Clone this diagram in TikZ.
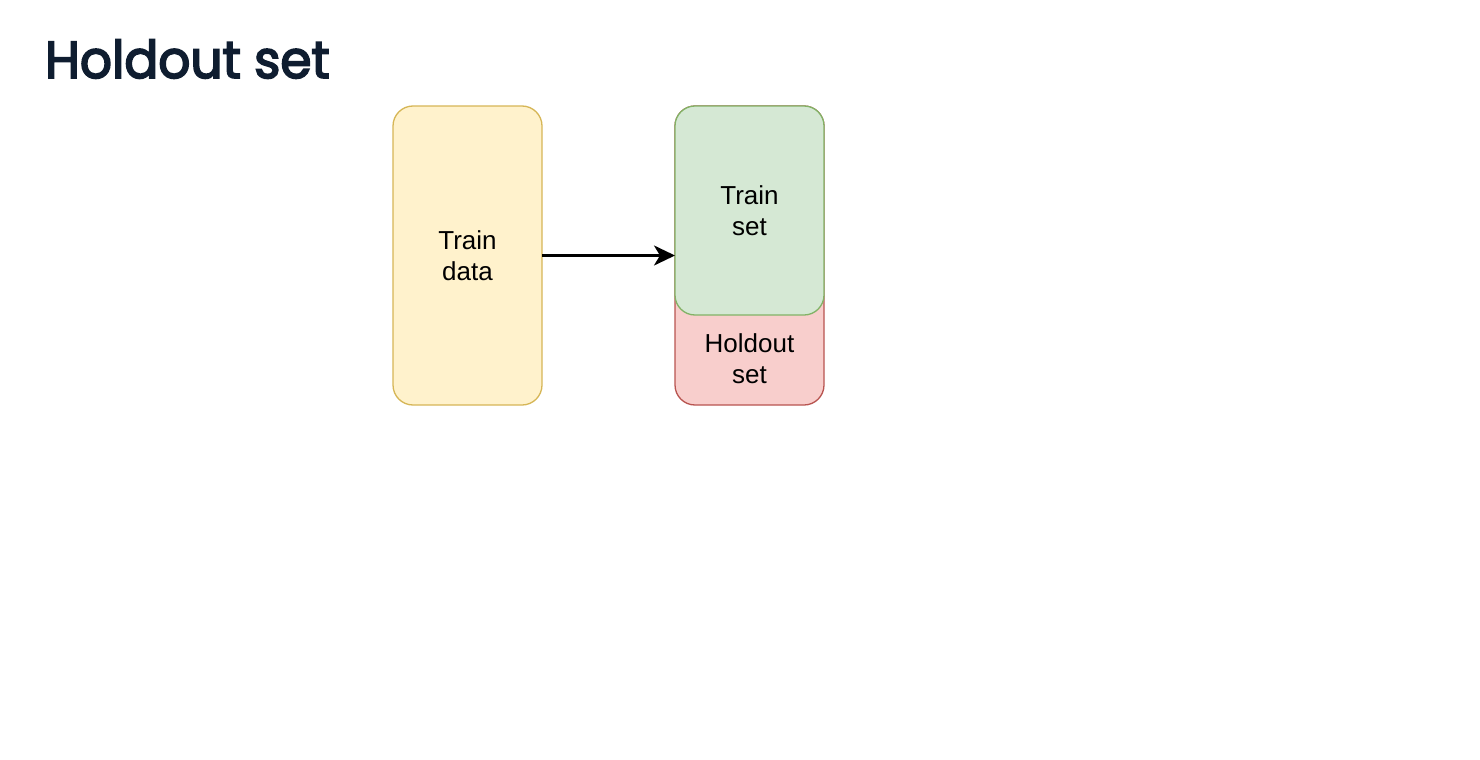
\documentclass[tikz,border=0pt]{standalone}
\usepackage{fontspec}
\setmainfont{Liberation Sans}
\newfontfamily\titlefont[FakeBold=3.4]{Poppins}
\usetikzlibrary{arrows.meta}
\definecolor{titleink}{HTML}{0F1D30}
\definecolor{yfill}{HTML}{FFF2CC}
\definecolor{ydraw}{HTML}{D6B656}
\definecolor{gfill}{HTML}{D5E8D4}
\definecolor{gdraw}{HTML}{82B366}
\definecolor{rfill}{HTML}{F8CECC}
\definecolor{rdraw}{HTML}{B85450}
\tikzset{
  card/.style={rounded corners=20pt, line width=1.3pt},
  cardlabel/.style={align=center, font=\fontsize{26pt}{31.5pt}\selectfont, text=black, inner sep=0pt},
  flow/.style={line width=2.8pt, -{Stealth[length=21pt,width=20pt,inset=6pt]}},
}
\begin{document}
\begin{tikzpicture}[x=1pt,y=-1pt]
  \useasboundingbox (0,0) rectangle (1480,760);
  % heading
  \node[anchor=base west, inner sep=0pt, text=titleink, xscale=0.965,
        font=\titlefont\fontsize{52pt}{60pt}\selectfont] (title) at (45,78) {Holdout set};
  % source data
  \draw[card, fill=yfill, draw=ydraw] (393,106) rectangle (542,405);
  \node[cardlabel] (train) at (467.5,255.5) {Train\\data};
  % split: holdout sits behind the training part
  \draw[card, fill=rfill, draw=rdraw] (675,106) rectangle (824,405);
  \draw[card, fill=gfill, draw=gdraw] (675,106) rectangle (824,315);
  \node[cardlabel] (tset) at (749.5,210.5) {Train\\set};
  \node[cardlabel] (hset) at (749.5,358.5) {Holdout\\set};
  \coordinate (src) at (542,255.5);
  \coordinate (dst) at (675,255.5);
  \draw[flow] (src) -- (dst);
\end{tikzpicture}
\end{document}
